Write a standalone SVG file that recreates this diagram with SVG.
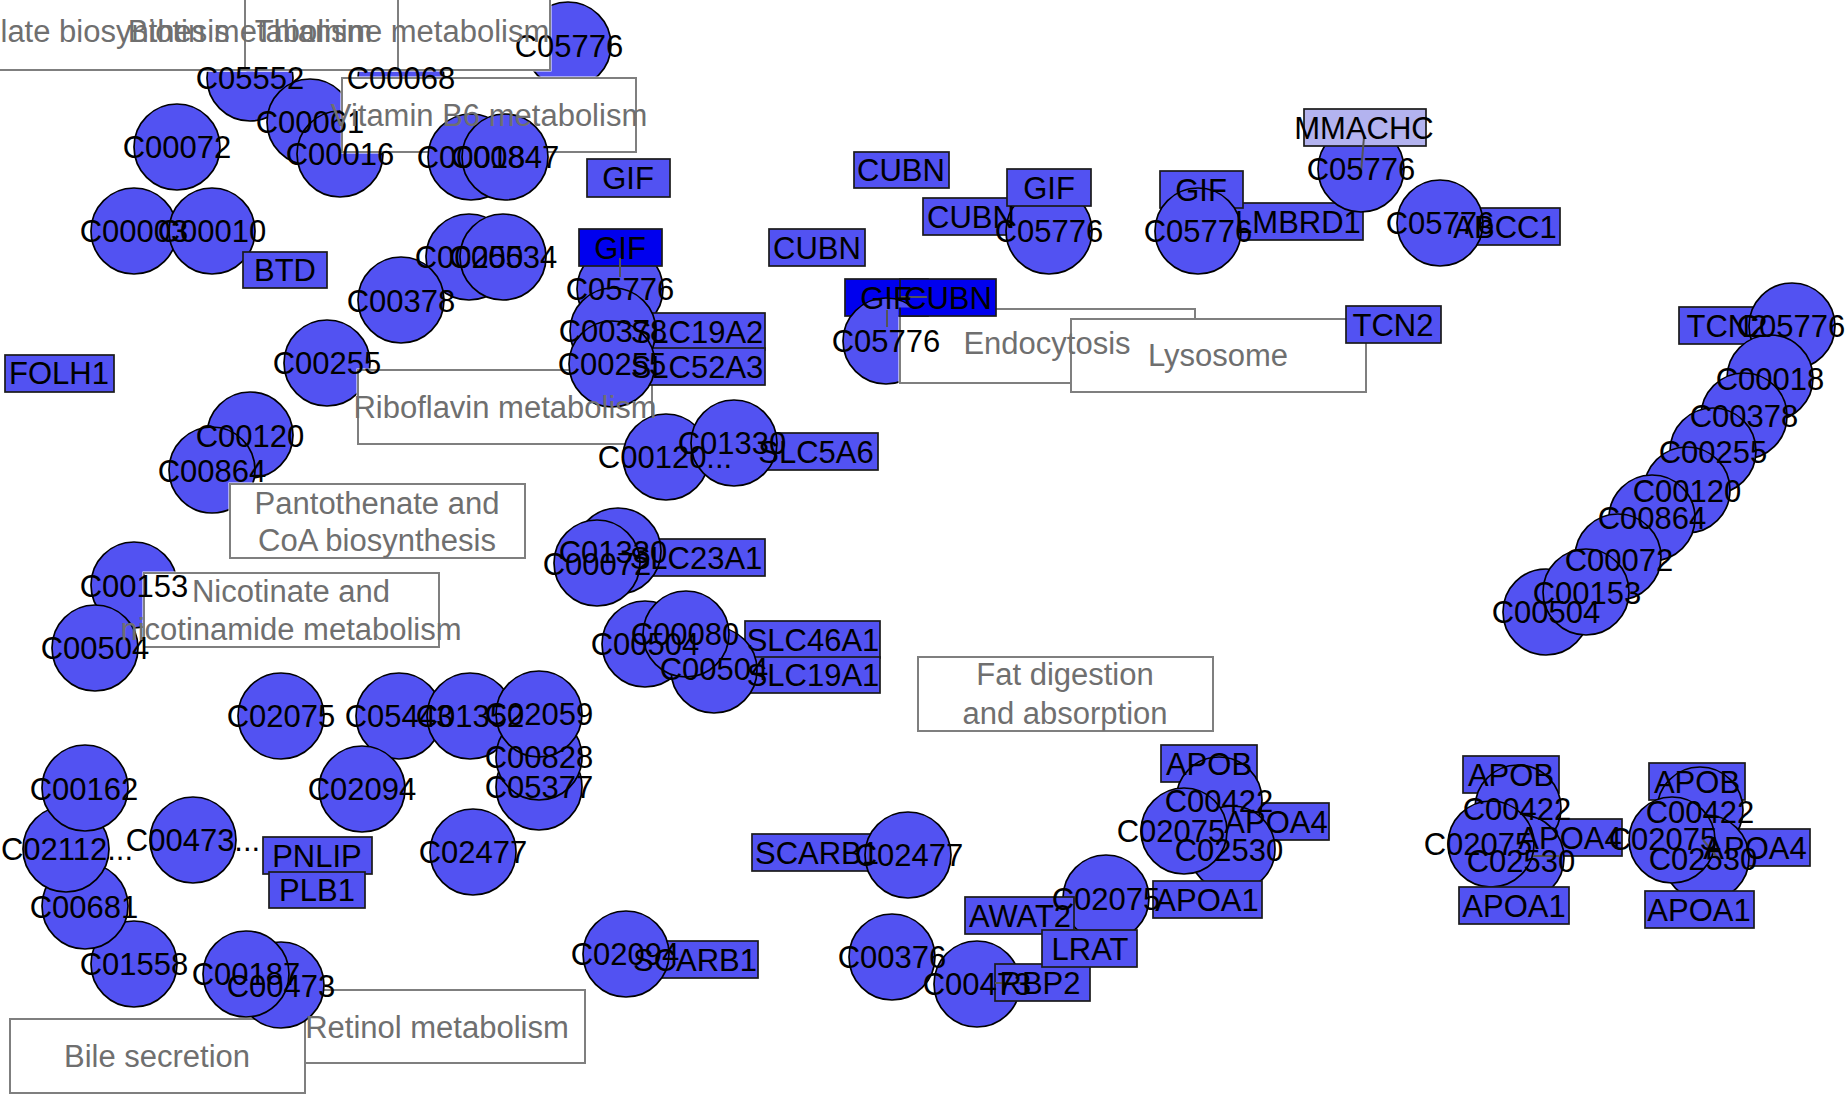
<svg xmlns="http://www.w3.org/2000/svg" width="1848" height="1095" viewBox="0 0 1848 1095">
<style>
.c{fill:#5252f2;stroke:#000;stroke-width:1.7}
.r{fill:#5252f2;stroke:#1a1a1a;stroke-width:1.7}
.rd{fill:#0000ee;stroke:#1a1a1a;stroke-width:1.7}
.rl{fill:#b3b3ef;stroke:#1a1a1a;stroke-width:1.7}
.pw{fill:#fff;stroke:#7f7f7f;stroke-width:2}
.t{font-family:"Liberation Sans",Arial,Helvetica,sans-serif;font-size:31px;fill:#000;text-anchor:middle}
.pt{font-family:"Liberation Sans",Arial,Helvetica,sans-serif;font-size:31px;fill:#6f6f6f;text-anchor:middle}
.e{stroke:#555;stroke-width:2;fill:none}
</style>
<defs>
<mask id="mb" maskUnits="userSpaceOnUse" x="0" y="0" width="1848" height="1095">
<rect x="0" y="0" width="1848" height="1095" fill="#fff"/>
<rect x="253.5" y="-5.5" width="298" height="77" fill="#000"/>
<rect x="101.5" y="-5.5" width="298" height="77" fill="#000"/>
<rect x="-51.5" y="-5.5" width="298" height="77" fill="#000"/>
<rect x="340.5" y="76.5" width="297" height="77" fill="#000"/>
<rect x="356.5" y="368.5" width="297" height="77" fill="#000"/>
<rect x="228.5" y="482.5" width="298" height="77" fill="#000"/>
<rect x="142.5" y="571.5" width="298" height="77" fill="#000"/>
<rect x="898.5" y="307.5" width="298" height="77" fill="#000"/>
<rect x="1069.5" y="317.5" width="298" height="76" fill="#000"/>
</mask>
</defs>

<g id="pathways">
<rect class="pw" x="255" y="-4" width="295" height="74"/>
<rect class="pw" x="103" y="-4" width="295" height="74"/>
<rect class="pw" x="-50" y="-4" width="295" height="74"/>
<rect class="pw" x="342" y="78" width="294" height="74"/>
<rect class="pw" x="358" y="370" width="294" height="74"/>
<rect class="pw" x="230" y="484" width="295" height="74"/>
<rect class="pw" x="144" y="573" width="295" height="74"/>
<rect class="pw" x="900" y="309" width="295" height="74"/>
<rect class="pw" x="1071" y="319" width="295" height="73"/>
<rect class="pw" x="918" y="657" width="295" height="74"/>
<rect class="pw" x="290" y="990" width="295" height="73"/>
<rect class="pw" x="10" y="1019" width="295" height="74"/>
</g>

<g id="nodes">
<g id="C05552_1"><circle class="c" cx="250" cy="78" r="43" mask="url(#mb)"/></g>
<g id="C00068_1"><circle class="c" cx="401" cy="78" r="43" mask="url(#mb)"/></g>
<g id="C05776_1"><circle class="c" cx="568" cy="45" r="43" mask="url(#mb)"/></g>
<g id="C00061_1"><circle class="c" cx="310" cy="122" r="43" mask="url(#mb)"/></g>
<g id="C00016_1"><circle class="c" cx="340" cy="154" r="43" mask="url(#mb)"/></g>
<g id="C00072_1"><circle class="c" cx="177" cy="147" r="43"/></g>
<g id="C00003_1"><circle class="c" cx="134" cy="231" r="43"/></g>
<g id="C00010_1"><circle class="c" cx="212" cy="231" r="43"/></g>
<g id="BTD_1"><rect class="r" x="243" y="252" width="84" height="36"/></g>
<g id="C00018_1"><circle class="c" cx="471" cy="157" r="43"/></g>
<g id="C00847_1"><circle class="c" cx="505" cy="157" r="43"/></g>
<g id="C00250_1"><circle class="c" cx="469" cy="257" r="43"/></g>
<g id="C00534_1"><circle class="c" cx="503" cy="257" r="43"/></g>
<g id="C00378_1"><circle class="c" cx="401" cy="300" r="43"/></g>
<g id="C00255_1"><circle class="c" cx="327" cy="363" r="43" mask="url(#mb)"/></g>
<g id="FOLH1_1"><rect class="r" x="5" y="355" width="109" height="37"/></g>
<g id="GIF_1"><rect class="r" x="587" y="159" width="83" height="38"/></g>
<g id="C05776_2"><circle class="c" cx="620" cy="289" r="43"/></g>
<g id="GIF_2"><rect class="rd" x="579" y="229" width="83" height="37"/></g>
<g id="SLC19A2_1"><rect class="r" x="628" y="313" width="137" height="37"/></g>
<g id="SLC52A3_1"><rect class="r" x="628" y="348" width="137" height="37"/></g>
<g id="C00378_2"><circle class="c" cx="613" cy="331" r="43"/></g>
<g id="C00255_2"><circle class="c" cx="612" cy="364" r="43"/></g>

<g id="CUBN_1"><rect class="r" x="769" y="229" width="96" height="37"/></g>
<g id="CUBN_2"><rect class="r" x="854" y="152" width="95" height="36"/></g>
<g id="GIF_3"><rect class="rd" x="845" y="279" width="83" height="37"/></g>
<g id="CUBN_3"><rect class="rd" x="900" y="279" width="96" height="37"/></g>
<g id="C05776_3"><circle class="c" cx="886" cy="341" r="43" mask="url(#mb)"/></g>
<g id="CUBN_4"><rect class="r" x="923" y="198" width="96" height="37"/></g>
<g id="C05776_4"><circle class="c" cx="1049" cy="231" r="43"/></g>
<g id="GIF_4"><rect class="r" x="1007" y="169" width="84" height="37"/></g>
<g id="LMBRD1_1"><rect class="r" x="1232" y="203" width="131" height="37"/></g>
<g id="GIF_5"><rect class="r" x="1160" y="171" width="83" height="37"/></g>
<g id="C05776_5"><circle class="c" cx="1198" cy="231" r="43"/></g>
<g id="C05776_6"><circle class="c" cx="1361" cy="169" r="43"/></g>
<g id="MMACHC_1"><rect class="rl" x="1304" y="109" width="122" height="37"/></g>
<g id="ABCC1_1"><rect class="r" x="1451" y="208" width="109" height="37"/></g>
<g id="C05776_7"><circle class="c" cx="1440" cy="223" r="43"/></g>
<g id="TCN2_1"><rect class="r" x="1346" y="306" width="95" height="37"/></g>
<g id="TCN2_2"><rect class="r" x="1679" y="307" width="95" height="37"/></g>
<g id="C00504_1"><circle class="c" cx="1546" cy="612" r="43"/></g>
<g id="C05776_8"><circle class="c" cx="1792" cy="326" r="43"/></g>
<g id="C00018_2"><circle class="c" cx="1770" cy="378" r="43"/></g>
<g id="C00378_3"><circle class="c" cx="1744" cy="416" r="43"/></g>
<g id="C00255_3"><circle class="c" cx="1713" cy="451" r="43"/></g>
<g id="C00120_1"><circle class="c" cx="1687" cy="490" r="43"/></g>
<g id="C00864_1"><circle class="c" cx="1652" cy="518" r="43"/></g>
<g id="C00072_2"><circle class="c" cx="1618" cy="557" r="43"/></g>
<g id="C00153_1"><circle class="c" cx="1586" cy="592" r="43"/></g>

<g id="C00120_2"><circle class="c" cx="250" cy="435" r="43"/></g>
<g id="C00864_2"><circle class="c" cx="212" cy="470" r="43" mask="url(#mb)"/></g>
<g id="C00153_2"><circle class="c" cx="134" cy="585" r="43" mask="url(#mb)"/></g>
<g id="C00504_2"><circle class="c" cx="95" cy="648" r="43"/></g>
<g id="SLC5A6_1"><rect class="r" x="754" y="433" width="124" height="37"/></g>
<g id="C00120_3"><circle class="c" cx="666" cy="457" r="43"/></g>
<g id="C01330_1"><circle class="c" cx="734" cy="443" r="43"/></g>
<g id="SLC23A1_1"><rect class="r" x="628" y="539" width="137" height="37"/></g>
<g id="C01330_2"><circle class="c" cx="618" cy="551" r="43"/></g>
<g id="C00072_3"><circle class="c" cx="597" cy="563" r="43"/></g>
<g id="SLC46A1_1"><rect class="r" x="745" y="621" width="135" height="37"/></g>
<g id="SLC19A1_1"><rect class="r" x="745" y="657" width="135" height="36"/></g>
<g id="C00504_3"><circle class="c" cx="645" cy="644" r="43"/></g>
<g id="C00504_4"><circle class="c" cx="714" cy="670" r="43"/></g>
<g id="C00080_1"><circle class="c" cx="686" cy="634" r="43"/></g>

<g id="C01558_1"><circle class="c" cx="134" cy="964" r="43"/></g>
<g id="C00681_1"><circle class="c" cx="85" cy="906" r="43"/></g>
<g id="C02112_1"><circle class="c" cx="66" cy="849" r="43"/></g>
<g id="C00162_1"><circle class="c" cx="85" cy="788" r="43"/></g>
<g id="C00473_1"><circle class="c" cx="193" cy="840" r="43"/></g>
<g id="PNLIP_1"><rect class="r" x="263" y="837" width="109" height="37"/></g>
<g id="PLB1_1"><rect class="r" x="269" y="872" width="96" height="36"/></g>
<g id="C00473_2"><circle class="c" cx="281" cy="985" r="43"/></g>
<g id="C00187_1"><circle class="c" cx="246" cy="974" r="43"/></g>

<g id="C02075_1"><circle class="c" cx="281" cy="716" r="43"/></g>
<g id="C05443_1"><circle class="c" cx="399" cy="716" r="43"/></g>
<g id="C01352_1"><circle class="c" cx="470" cy="716" r="43"/></g>
<g id="C05377_1"><circle class="c" cx="539" cy="787" r="43"/></g>
<g id="C00828_1"><circle class="c" cx="539" cy="757" r="43"/></g>
<g id="C02059_1"><circle class="c" cx="539" cy="714" r="43"/></g>
<g id="C02094_1"><circle class="c" cx="362" cy="789" r="43"/></g>
<g id="C02477_1"><circle class="c" cx="473" cy="852" r="43"/></g>
<g id="SCARB1_1"><rect class="r" x="632" y="941" width="126" height="37"/></g>
<g id="C02094_2"><circle class="c" cx="626" cy="954" r="43"/></g>
<g id="SCARB1_2"><rect class="r" x="752" y="834" width="130" height="37"/></g>
<g id="C02477_2"><circle class="c" cx="908" cy="855" r="43"/></g>
<g id="C00376_1"><circle class="c" cx="892" cy="957" r="43"/></g>
<g id="C00473_3"><circle class="c" cx="977" cy="984" r="43"/></g>
<g id="RBP2_1"><rect class="r" x="995" y="964" width="95" height="37"/></g>
<g id="C02075_2"><circle class="c" cx="1106" cy="898" r="43"/></g>
<g id="AWAT2_1"><rect class="r" x="965" y="897" width="109" height="37"/></g>
<g id="LRAT_1"><rect class="r" x="1042" y="930" width="95" height="37"/></g>

<g id="APOA4_1"><rect class="r" x="1223" y="803" width="106" height="37"/></g>
<g id="APOB_1"><rect class="r" x="1161" y="745" width="96" height="37"/></g>
<g id="C00422_1"><circle class="c" cx="1219" cy="800" r="43"/></g>
<g id="C02530_1"><circle class="c" cx="1232" cy="849" r="43"/></g>
<g id="C02075_3"><circle class="c" cx="1184" cy="831" r="43"/></g>
<g id="APOA1_1"><rect class="r" x="1153" y="881" width="109" height="37"/></g>

<g id="APOA4_2"><rect class="r" x="1518" y="819" width="104" height="37"/></g>
<g id="APOB_2"><rect class="r" x="1463" y="756" width="96" height="37"/></g>
<g id="C00422_2"><circle class="c" cx="1518" cy="808" r="43"/></g>
<g id="C02530_2"><circle class="c" cx="1521" cy="858" r="43"/></g>
<g id="C02075_4"><circle class="c" cx="1491" cy="844" r="43"/></g>
<g id="APOA1_2"><rect class="r" x="1459" y="887" width="110" height="37"/></g>

<g id="APOA4_3"><rect class="r" x="1700" y="829" width="110" height="37"/></g>
<g id="APOB_3"><rect class="r" x="1649" y="763" width="96" height="37"/></g>
<g id="C00422_3"><circle class="c" cx="1700" cy="810" r="43"/></g>
<g id="C02530_3"><circle class="c" cx="1706" cy="858" r="43"/></g>
<g id="C02075_5"><circle class="c" cx="1672" cy="840" r="43"/></g>
<g id="APOA1_3"><rect class="r" x="1645" y="891" width="109" height="37"/></g>
</g>

<g id="edges">
<line class="e" x1="620" y1="258" x2="620" y2="277"/>
<line class="e" x1="1364" y1="137" x2="1361" y2="172"/>
<line class="e" x1="887" y1="310" x2="887" y2="327"/>
<line class="e" x1="901" y1="297" x2="927" y2="297"/>
<line class="e" x1="995" y1="983" x2="1021" y2="983"/>
<line class="e" x1="1533" y1="856" x2="1559" y2="856"/>
<line class="e" x1="1703" y1="840" x2="1718" y2="858"/>
</g>

<g id="labels">
<text class="t" x="250" y="89">C05552</text>
<text class="t" x="401" y="89">C00068</text>
<text class="t" x="569" y="57">C05776</text>
<text class="t" x="310" y="133">C00061</text>
<text class="t" x="340" y="165">C00016</text>
<text class="t" x="177" y="158">C00072</text>
<text class="t" x="134" y="242">C00003</text>
<text class="t" x="212" y="242">C00010</text>
<text class="t" x="285" y="281">BTD</text>
<text class="t" x="471" y="168">C00018</text>
<text class="t" x="505" y="168">C00847</text>
<text class="t" x="469" y="268">C00250</text>
<text class="t" x="503" y="268">C00534</text>
<text class="t" x="401" y="312">C00378</text>
<text class="t" x="327" y="374">C00255</text>
<text class="t" x="59" y="384">FOLH1</text>
<text class="t" x="628" y="189">GIF</text>
<text class="t" x="620" y="300">C05776</text>
<text class="t" x="620" y="259">GIF</text>
<text class="t" x="697" y="343">SLC19A2</text>
<text class="t" x="697" y="378">SLC52A3</text>
<text class="t" x="613" y="342">C00378</text>
<text class="t" x="612" y="375">C00255</text>
<text class="t" x="817" y="259">CUBN</text>
<text class="t" x="901" y="181">CUBN</text>
<text class="t" x="886" y="309">GIF</text>
<text class="t" x="948" y="309">CUBN</text>
<text class="t" x="886" y="352">C05776</text>
<text class="t" x="971" y="228">CUBN</text>
<text class="t" x="1049" y="242">C05776</text>
<text class="t" x="1049" y="199">GIF</text>
<text class="t" x="1298" y="233">LMBRD1</text>
<text class="t" x="1201" y="201">GIF</text>
<text class="t" x="1198" y="242">C05776</text>
<text class="t" x="1361" y="180">C05776</text>
<text class="t" x="1364" y="139">MMACHC</text>
<text class="t" x="1505" y="238">ABCC1</text>
<text class="t" x="1440" y="234">C05776</text>
<text class="t" x="1393" y="336">TCN2</text>
<text class="t" x="1727" y="337">TCN2</text>
<text class="t" x="1546" y="623">C00504</text>
<text class="t" x="1791" y="337">C05776</text>
<text class="t" x="1770" y="390">C00018</text>
<text class="t" x="1744" y="427">C00378</text>
<text class="t" x="1713" y="463">C00255</text>
<text class="t" x="1687" y="502">C00120</text>
<text class="t" x="1652" y="529">C00864</text>
<text class="t" x="1619" y="571">C00072</text>
<text class="t" x="1587" y="604">C00153</text>
<text class="t" x="250" y="447">C00120</text>
<text class="t" x="212" y="482">C00864</text>
<text class="t" x="134" y="597">C00153</text>
<text class="t" x="95" y="659">C00504</text>
<text class="t" x="816" y="463">SLC5A6</text>
<text class="t" x="665" y="468">C00120...</text>
<text class="t" x="732" y="454">C01330</text>
<text class="t" x="696" y="569">SLC23A1</text>
<text class="t" x="613" y="563">C01330</text>
<text class="t" x="597" y="575">C00072</text>
<text class="t" x="813" y="651">SLC46A1</text>
<text class="t" x="813" y="686">SLC19A1</text>
<text class="t" x="645" y="655">C00504</text>
<text class="t" x="714" y="680">C00504</text>
<text class="t" x="685" y="645">C00080</text>
<text class="t" x="134" y="975">C01558</text>
<text class="t" x="84" y="918">C00681</text>
<text class="t" x="67" y="860">C02112...</text>
<text class="t" x="84" y="800">C00162</text>
<text class="t" x="193" y="851">C00473...</text>
<text class="t" x="317" y="867">PNLIP</text>
<text class="t" x="317" y="901">PLB1</text>
<text class="t" x="281" y="997">C00473</text>
<text class="t" x="246" y="985">C00187</text>
<text class="t" x="281" y="727">C02075</text>
<text class="t" x="399" y="727">C05443</text>
<text class="t" x="470" y="727">C01352</text>
<text class="t" x="539" y="798">C05377</text>
<text class="t" x="539" y="768">C00828</text>
<text class="t" x="539" y="725">C02059</text>
<text class="t" x="362" y="800">C02094</text>
<text class="t" x="473" y="863">C02477</text>
<text class="t" x="695" y="971">SCARB1</text>
<text class="t" x="625" y="965">C02094</text>
<text class="t" x="817" y="864">SCARB1</text>
<text class="t" x="909" y="866">C02477</text>
<text class="t" x="892" y="968">C00376</text>
<text class="t" x="977" y="995">C00473</text>
<text class="t" x="1040" y="994">RBP2</text>
<text class="t" x="1106" y="910">C02075</text>
<text class="t" x="1020" y="927">AWAT2</text>
<text class="t" x="1090" y="960">LRAT</text>
<text class="t" x="1276" y="833">APOA4</text>
<text class="t" x="1209" y="775">APOB</text>
<text class="t" x="1219" y="812">C00422</text>
<text class="t" x="1229" y="861">C02530</text>
<text class="t" x="1171" y="842">C02075</text>
<text class="t" x="1207" y="911">APOA1</text>
<text class="t" x="1570" y="849">APOA4</text>
<text class="t" x="1511" y="786">APOB</text>
<text class="t" x="1517" y="820">C00422</text>
<text class="t" x="1521" y="872">C02530</text>
<text class="t" x="1478" y="855">C02075</text>
<text class="t" x="1514" y="917">APOA1</text>
<text class="t" x="1755" y="859">APOA4</text>
<text class="t" x="1697" y="793">APOB</text>
<text class="t" x="1700" y="823">C00422</text>
<text class="t" x="1703" y="870">C02530</text>
<text class="t" x="1663" y="850">C02075</text>
<text class="t" x="1699" y="921">APOA1</text>
</g>

<g id="pathway-labels">
<text class="pt" x="402" y="42">Thiamine metabolism</text>
<text class="pt" x="250" y="42">Biotin metabolism</text>
<text class="pt" x="97" y="42">Folate biosynthesis</text>
<text class="pt" x="489" y="126">Vitamin B6 metabolism</text>
<text class="pt" x="505" y="418">Riboflavin metabolism</text>
<text class="pt" x="377" y="514">Pantothenate and</text>
<text class="pt" x="377" y="551">CoA biosynthesis</text>
<text class="pt" x="291" y="602">Nicotinate and</text>
<text class="pt" x="291" y="640">nicotinamide metabolism</text>
<text class="pt" x="1047" y="354">Endocytosis</text>
<text class="pt" x="1218" y="366">Lysosome</text>
<text class="pt" x="1065" y="685">Fat digestion</text>
<text class="pt" x="1065" y="724">and absorption</text>
<text class="pt" x="437" y="1038">Retinol metabolism</text>
<text class="pt" x="157" y="1067">Bile secretion</text>
</g>
</svg>
